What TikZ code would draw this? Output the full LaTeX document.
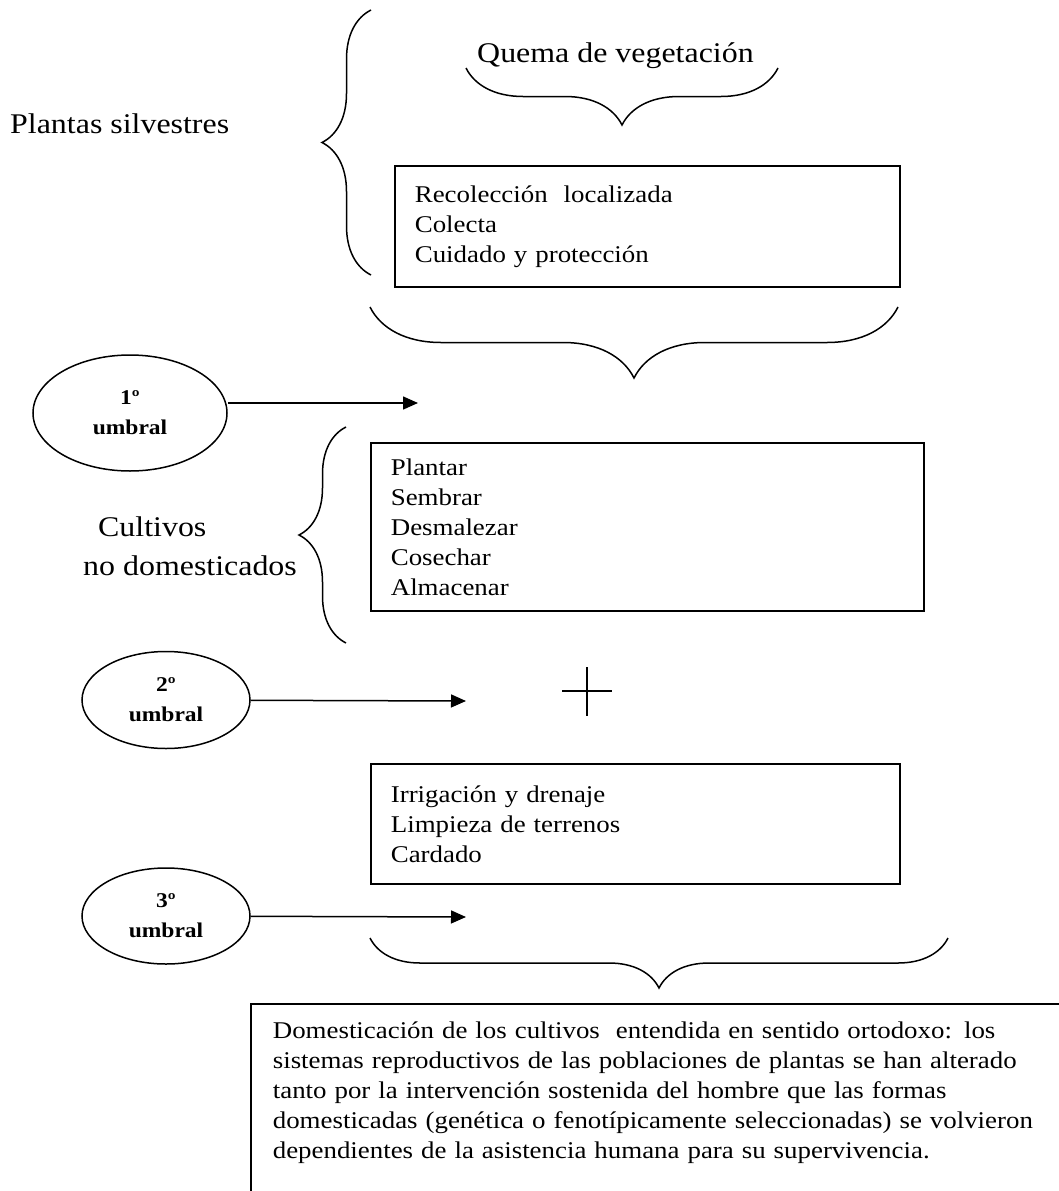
\documentclass[tikz,border=0pt]{standalone}
\usepackage{fontspec}
\setmainfont[FakeStretch=1.12]{Liberation Serif}
\usepackage{tikz}
\usetikzlibrary{shapes.geometric,decorations.pathreplacing,arrows.meta}

\begin{document}
\begin{tikzpicture}[x=1pt,y=-1pt,
    titulo/.style={inner sep=0pt,anchor=base west,font=\fontsize{28.5}{34}\selectfont},
    lista/.style={draw,line width=1.7pt,anchor=north west,align=left,inner xsep=20pt,
                  font=\fontsize{24}{30}\selectfont},
    umbral/.style={draw,ellipse,line width=1.5pt,inner sep=0pt,align=center,
                  font=\fontsize{21}{30}\selectfont\bfseries},
    llave/.style={decorate,line width=1.5pt,decoration={brace,amplitude=#1}},
    flecha/.style={line width=1.5pt,-{Triangle[length=15pt,width=13pt]}}]
  \useasboundingbox (0,0) rectangle (1059,1191);

  % Titles on the left and on top:
  \node [titulo] (silv) at (10,133) {Plantas silvestres};
  \node [titulo] (quema) at (477,62) {Quema de vegetaci\'on};
  \node [titulo] (cult) at (98,536) {Cultivos};
  \node [titulo] (nodom) at (83,575) {no domesticados};

  % The boxes with the lists of tasks:
  \node [lista,text width=465pt,minimum height=121pt] (caja1) at (394,165)
    {Recolecci\'on\ \ localizada\\Colecta\\Cuidado y protecci\'on};
  \node [lista,text width=513pt,minimum height=168pt] (caja2) at (370,442)
    {Plantar\\Sembrar\\Desmalezar\\Cosechar\\Almacenar};
  \node [lista,text width=489pt,minimum height=120pt] (caja3) at (370,763)
    {Irrigaci\'on y drenaje\\Limpieza de terrenos\\Cardado};
  % this one runs past the page on the right and at the bottom
  \node [lista,text width=800pt,inner xsep=22pt,inner ysep=18pt] (caja4) at (250,1003)
    {Domesticaci\'on de los cultivos\ \ entendida en sentido ortodoxo: los\\
     sistemas reproductivos de las poblaciones de plantas se han alterado\\
     tanto por la intervenci\'on sostenida del hombre que las formas\\
     domesticadas (gen\'etica o fenot\'ipicamente seleccionadas) se volvieron\\
     dependientes de la asistencia humana para su supervivencia.\\[20pt] ~};

  % Thresholds:
  \node [umbral,minimum width=194pt,minimum height=116pt] (u1) at (130,413) {1º\\umbral};
  \node [umbral,minimum width=168pt,minimum height=97pt] (u2) at (166,700) {2º\\umbral};
  \node [umbral,minimum width=168pt,minimum height=96pt] (u3) at (166,916) {3º\\umbral};

  \coordinate (p1) at (418,403);
  \coordinate (p2) at (466,701);
  \coordinate (p3) at (466,917);
  \draw [flecha] (u1.east |- p1) -- (p1);
  \draw [flecha] (u2) -- (p2);
  \draw [flecha] (u3) -- (p3);

  % Braces:
  \draw [llave=49pt] (371,275) -- (371,10);
  \draw [llave=57pt] (778,68) -- (466,68);
  \draw [llave=71pt] (898,307) -- (370,307);
  \draw [llave=47pt] (346,643) -- (346,427);
  \draw [llave=50pt] (948,938) -- (370,938);

  % The plus sign:
  \draw [line width=1.5pt] (562,691) -- (612,691);
  \draw [line width=1.5pt] (587,667) -- (587,716);
\end{tikzpicture}
\end{document}
